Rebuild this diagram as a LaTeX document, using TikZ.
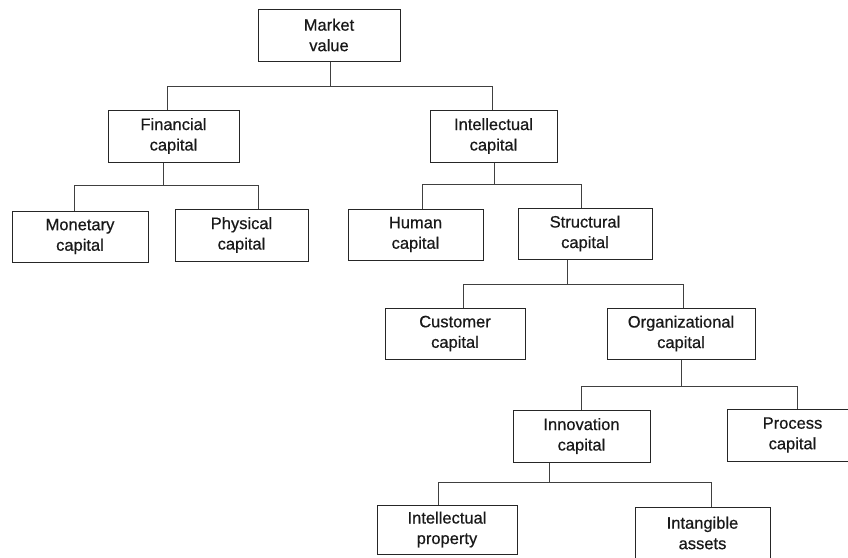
\documentclass[tikz,border=0pt]{standalone}
\usepackage{fontspec}
\setmainfont[FakeBold=0.6]{Liberation Sans}
\begin{document}
\begin{tikzpicture}[x=1pt,y=-1pt,
  box/.style={draw=black!85, line width=1pt, align=center, inner sep=0pt,
    font=\fontsize{16.5}{20.5}\selectfont, text=black!90},
  conn/.style={draw=black!75, line width=0.9pt}]
\useasboundingbox (0,0) rectangle (848,557);
\clip (0,0) rectangle (848,557);
\fill[white] (0,0) rectangle (848,557);
\node[box, minimum width=142pt, minimum height=52pt] (mv) at (329,35) {Market\\value};
\node[box, minimum width=131pt, minimum height=52pt] (fc) at (173.5,136) {Financial\\capital};
\node[box, minimum width=127pt, minimum height=52pt] (ic) at (493.5,136) {Intellectual\\capital};
\node[box, minimum width=136pt, minimum height=51pt] (mon) at (80,236.5) {Monetary\\capital};
\node[box, minimum width=133pt, minimum height=52pt] (phy) at (241.5,235) {Physical\\capital};
\node[box, minimum width=135pt, minimum height=51pt] (hum) at (415.5,234.5) {Human\\capital};
\node[box, minimum width=134pt, minimum height=51pt] (str) at (585,233.5) {Structural\\capital};
\node[box, minimum width=140pt, minimum height=51pt] (cus) at (455,333.5) {Customer\\capital};
\node[box, minimum width=148pt, minimum height=51pt] (org) at (681,333.5) {Organizational\\capital};
\node[box, minimum width=137pt, minimum height=52pt] (inn) at (581.5,436) {Innovation\\capital};
\node[box, minimum width=131pt, minimum height=52pt] (pro) at (792.5,435) {Process\\capital};
\node[box, minimum width=140pt, minimum height=49pt] (ip) at (447,529.5) {Intellectual\\property};
\node[box, minimum width=135pt, minimum height=52pt] (ia) at (702.5,533) {Intangible\\assets};
% bus 1
\draw[conn] (mv.south -| 330,0) -- (330,86);
\draw[conn] (fc.north -| 167,0) -- (167,86) -- (492,86) -- (ic.north -| 492,0);
% bus 2
\draw[conn] (fc.south -| 163,0) -- (163,185);
\draw[conn] (mon.north -| 74,0) -- (74,185) -- (258,185) -- (phy.north -| 258,0);
% bus 3
\draw[conn] (ic.south -| 494,0) -- (494,184);
\draw[conn] (hum.north -| 422,0) -- (422,184) -- (581,184) -- (str.north -| 581,0);
% bus 4
\draw[conn] (str.south -| 567,0) -- (567,284);
\draw[conn] (cus.north -| 463,0) -- (463,284) -- (683,284) -- (org.north -| 683,0);
% bus 5
\draw[conn] (org.south -| 681,0) -- (681,386);
\draw[conn] (inn.north -| 581,0) -- (581,386) -- (797,386) -- (pro.north -| 797,0);
% bus 6
\draw[conn] (inn.south -| 549,0) -- (549,482);
\draw[conn] (ip.north -| 438,0) -- (438,482) -- (711,482) -- (ia.north -| 711,0);
\end{tikzpicture}
\end{document}
